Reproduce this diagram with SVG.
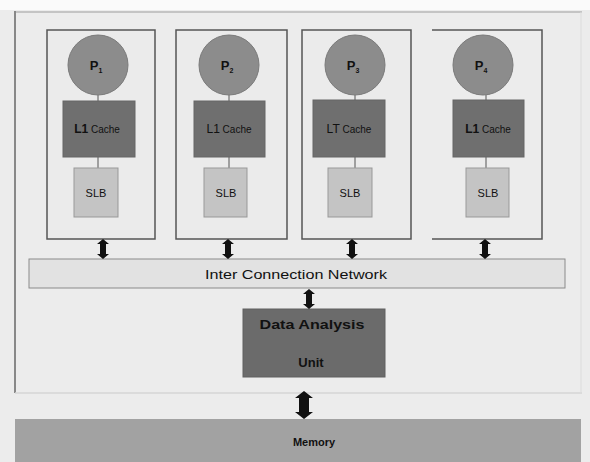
<svg xmlns="http://www.w3.org/2000/svg" width="590" height="462" viewBox="0 0 590 462">
<style>
text{font-family:"Liberation Sans",Arial,sans-serif;fill:#111;text-anchor:middle}
.box{fill:#ebebeb;stroke:#555;stroke-width:1.5}
.cpu{fill:#8c8c8c;stroke:#7a7a7a;stroke-width:1}
.l1{fill:#6f6f6f;stroke:#666;stroke-width:1}
.slb{fill:#c4c4c4;stroke:#999;stroke-width:1}
.link{stroke:#555;stroke-width:1}
.arr{fill:#111}
.b{font-weight:bold}
</style>
<defs>
<path id="dArr" class="arr" d="M0,0 L6,5 L3,5 L3,15 L6,15 L0,20 L-6,15 L-3,15 L-3,5 L-6,5 Z"/>
</defs>
<rect x="0" y="0" width="590" height="462" fill="#ececec"/>
<rect x="0" y="0" width="590" height="10" fill="#fafafa"/>
<g id="frame">
<line x1="15" y1="12" x2="582" y2="12" stroke="#c4c4c4" stroke-width="2"/>
<line x1="15" y1="11" x2="15" y2="393" stroke="#888" stroke-width="2"/>
<line x1="15" y1="393" x2="582" y2="393" stroke="#d6d6d6" stroke-width="1.5"/>
<line x1="581" y1="12" x2="581" y2="393" stroke="#dcdcdc" stroke-width="1"/>
</g>
<g id="pe1">
<rect class="box" x="47" y="30" width="108" height="209"/>
<line class="link" x1="98" y1="95" x2="98" y2="168"/>
<circle class="cpu" cx="98" cy="65" r="30"/>
<rect class="l1" x="63" y="101" width="72" height="56"/>
<rect class="slb" x="74" y="168" width="44" height="49"/>
<text x="96" y="70" class="b" font-size="13">P<tspan font-size="7" dy="3">1</tspan></text>
<text x="97" y="133" font-size="10"><tspan class="b" font-size="12">L1</tspan> Cache</text>
<text x="96" y="197" font-size="11">SLB</text>
</g>
<g id="pe2">
<rect class="box" x="176" y="30" width="111" height="209"/>
<line class="link" x1="229" y1="95" x2="229" y2="168"/>
<circle class="cpu" cx="229" cy="65" r="30"/>
<rect class="l1" x="194" y="101" width="71" height="56"/>
<rect class="slb" x="204" y="168" width="43" height="49"/>
<text x="227" y="70" class="b" font-size="13">P<tspan font-size="7" dy="3">2</tspan></text>
<text x="229" y="133" font-size="10"><tspan font-size="12">L1</tspan> Cache</text>
<text x="226" y="197" font-size="11">SLB</text>
</g>
<g id="pe3">
<rect class="box" x="302" y="30" width="109" height="209"/>
<line class="link" x1="355" y1="95" x2="355" y2="168"/>
<circle class="cpu" cx="355" cy="65" r="30"/>
<rect class="l1" x="313" y="100" width="72" height="57"/>
<rect class="slb" x="328" y="168" width="44" height="49"/>
<text x="353" y="70" class="b" font-size="13">P<tspan font-size="7" dy="3">3</tspan></text>
<text x="349" y="133" font-size="10"><tspan font-size="12">LT</tspan> Cache</text>
<text x="350" y="197" font-size="11">SLB</text>
</g>
<g id="pe4">
<polyline points="432,30 542,30 542,239 432,239" fill="none" stroke="#555" stroke-width="1.5"/>
<line class="link" x1="486" y1="95" x2="486" y2="168"/>
<circle class="cpu" cx="483" cy="65" r="30"/>
<rect class="l1" x="453" y="100" width="71" height="57"/>
<rect class="slb" x="466" y="168" width="43" height="49"/>
<text x="481" y="70" class="b" font-size="13">P<tspan font-size="7" dy="3">4</tspan></text>
<text x="488" y="133" font-size="10"><tspan class="b" font-size="12">L1</tspan> Cache</text>
<text x="488" y="197" font-size="11">SLB</text>
</g>
<g id="icn">
<rect x="29" y="259" width="536" height="29" fill="#e2e2e2" stroke="#8a8a8a" stroke-width="1"/>
<text x="296" y="279" font-size="13" textLength="182" lengthAdjust="spacingAndGlyphs">Inter Connection Network</text>
</g>
<g id="dau">
<rect x="243" y="309" width="142" height="68" fill="#6b6b6b" stroke="#606060" stroke-width="1"/>
<text x="312" y="329" class="b" font-size="13" textLength="105" lengthAdjust="spacingAndGlyphs">Data Analysis</text>
<text x="311" y="367" class="b" font-size="13">Unit</text>
</g>
<g id="memory">
<rect x="15" y="419" width="566" height="43" fill="#a2a2a2"/>
<text x="314" y="446" class="b" font-size="11">Memory</text>
</g>
<g id="connectors">
<use href="#dArr" x="103" y="239"/>
<use href="#dArr" x="228" y="239"/>
<use href="#dArr" x="352" y="239"/>
<use href="#dArr" x="485" y="239"/>
<use href="#dArr" x="309" y="289"/>
<path class="arr" d="M304,391 L313,398 L309,398 L309,412 L313,412 L304,419 L295,412 L299,412 L299,398 L295,398 Z"/>
</g>
</svg>
